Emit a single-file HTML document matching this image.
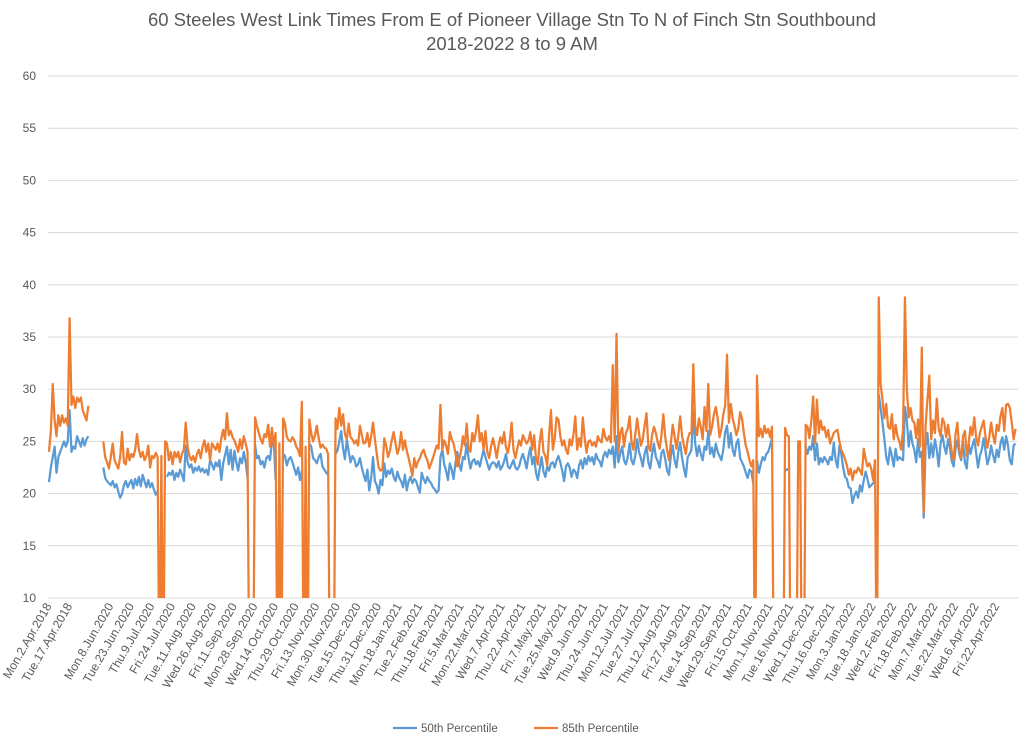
<!DOCTYPE html>
<html>
<head>
<meta charset="utf-8">
<style>
  html,body{margin:0;padding:0;background:#fff;}
  body{width:1024px;height:742px;overflow:hidden;font-family:"Liberation Sans",sans-serif;}
  svg{display:block;}
</style>
</head>
<body>
<svg id="chart" width="1024" height="742" viewBox="0 0 1024 742" xmlns="http://www.w3.org/2000/svg">
  <defs>
    <clipPath id="plotclip"><rect x="40" y="76" width="984" height="522"/></clipPath>
  </defs>
  <text x="512" y="26" text-anchor="middle" font-family="Liberation Sans, sans-serif" font-size="18.5" fill="#595959">60 Steeles West Link Times From E of Pioneer Village Stn To N of Finch Stn Southbound</text>
  <text x="512" y="50" text-anchor="middle" font-family="Liberation Sans, sans-serif" font-size="18.5" fill="#595959">2018-2022 8 to 9 AM</text>
  <g id="grid"></g>
  <g id="yaxis"></g>
  <g id="xaxis"></g>
  <g id="series" clip-path="url(#plotclip)"></g>
  <g>
    <line x1="393" y1="728" x2="417" y2="728" stroke="#5b9bd5" stroke-width="2.25"/>
    <text x="421" y="732" font-family="Liberation Sans, sans-serif" font-size="11.5" fill="#595959">50th Percentile</text>
    <line x1="534" y1="728" x2="558" y2="728" stroke="#ed7d31" stroke-width="2.25"/>
    <text x="562" y="732" font-family="Liberation Sans, sans-serif" font-size="11.5" fill="#595959">85th Percentile</text>
  </g>
</svg>
<script>
const yTicks = [10, 15, 20, 25, 30, 35, 40, 45, 50, 55, 60];
const xTickLabels = ["Mon.2.Apr.2018","Tue.17.Apr.2018","","Mon.8.Jun.2020","Tue.23.Jun.2020","Thu.9.Jul.2020","Fri.24.Jul.2020","Tue.11.Aug.2020","Wed.26.Aug.2020","Fri.11.Sep.2020","Mon.28.Sep.2020","Wed.14.Oct.2020","Thu.29.Oct.2020","Fri.13.Nov.2020","Mon.30.Nov.2020","Tue.15.Dec.2020","Thu.31.Dec.2020","Mon.18.Jan.2021","Tue.2.Feb.2021","Thu.18.Feb.2021","Fri.5.Mar.2021","Mon.22.Mar.2021","Wed.7.Apr.2021","Thu.22.Apr.2021","Fri.7.May.2021","Tue.25.May.2021","Wed.9.Jun.2021","Thu.24.Jun.2021","Mon.12.Jul.2021","Tue.27.Jul.2021","Thu.12.Aug.2021","Fri.27.Aug.2021","Tue.14.Sep.2021","Wed.29.Sep.2021","Fri.15.Oct.2021","Mon.1.Nov.2021","Tue.16.Nov.2021","Wed.1.Dec.2021","Thu.16.Dec.2021","Mon.3.Jan.2022","Tue.18.Jan.2022","Wed.2.Feb.2022","Fri.18.Feb.2022","Mon.7.Mar.2022","Tue.22.Mar.2022","Wed.6.Apr.2022","Fri.22.Apr.2022"];
const labelEvery = 11;

const p50 = [
 21.1,22.5,23.5,24.5,22,23.5,24,24.5,25,24.5,25,28,24,24.5,24.3,25.5,25,24.5,25.3,24.6,25.2,25.5,
 null,null,null,null,null,null,null,
 22.5,21.5,21.2,21.0,20.8,21.2,20.6,20.9,20.2,19.6,20.0,20.8,21.2,20.6,21.0,21.3,20.5,21.4,20.8,21.6,20.7,21.8,21.2,20.6,21.3,20.6,21.0,20.4,19.9,20.2,
 null,null,null,
 null,
 21.6,22,21.8,22.2,21.3,22,21.6,22.3,21.8,21.2,24.6,23,22.5,22.8,22,22.5,22.2,22.6,22.1,22.4,
 22,22.3,21.8,23.2,22.8,22.3,23,22.6,23.2,21.3,22.9,23.7,24.5,22.8,24.2,22.3,24.1,23,22.2,23.4,22.9,24,23,21.5,
 null,null,null,
 24.7,23.4,23.6,22.8,23.1,22.5,23.4,23.6,23.2,25.0,25.1,21.3,
 null,null,null,
 23.8,23.6,22.7,23.3,23.5,23,22.4,21.8,22.5,21.3,22.2,
 null,null,null,
 24.8,24.5,23.4,23.2,22.9,23.5,23.8,22.6,22.3,22,21.8,
 null,null,null,
 23.8,24.1,25,26,24.3,23.3,25.2,24,23,23.6,23.3,22.6,22.8,23.4,22.5,21.8,21.2,22.3,20.3,
 21.5,23.5,21.2,20.8,20.0,21.3,20.8,22.9,21.6,22.2,21.9,22.4,21.6,21.2,22.1,21.5,
 21.2,20.6,21.8,20.3,21.2,21.6,21.0,21.4,21.2,20.6,20.1,22,21.4,21,21.6,21.2,21,20.6,20.4,20.1,20.3,
 23.5,24.2,22.8,22.2,21.3,22.9,22.3,21.4,22.9,24,22.8,22.2,23.5,23.3,24.8,23.4,
 22.4,23.1,23.3,22.8,23.1,22.6,23.4,24.2,23.5,22.9,22.3,22.8,23,22.9,22.5,23.1,22.3,22.6,23.1,23.8,22.6,22.4,22.8,23.2,22.5,22.3,22.6,23.3,23.8,23.2,22.4,23.6,24.4,
 22.8,23.5,22,21.3,22.4,23.5,22.1,21.6,22.6,22.2,22.9,23,22.5,23.2,23.6,23,22.2,21.2,22.6,22.9,22.5,21.6,22.3,22.1,21.5,22.7,23.2,22.4,23.4,22.8,23.6,23.1,23.5,22.8,23.8,23.3,23.1,22.6,23.6,24,23.5,24.2,23.8,
 24.5,22.5,25.5,23,
 23.8,24.5,23.2,22.8,23.5,24.8,23.2,22.8,23.6,25.2,24,23.4,22.6,23.8,24.5,23,22.4,23.8,24.8,23.5,23.1,22.5,23.9,24.2,23.3,22.2,21.8,23.6,24.6,23.2,22.5,24,24.9,23.4,22.4,21.6,23.5,23.8,
 24.2,28,24.8,23.6,24.6,23.8,23.2,24.5,24.2,26,23.8,24.4,23.5,24.8,24,23.6,23.2,24.2,25.9,26.5,24.4,25.8,24.2,23.6,24.8,25.2,23.4,23,22.6,22,21.5,22.3,22.1,21,
 null,
 23.2,
 22,22.8,23.5,23.2,23.8,24,24.6,25.3,
 null,null,null,null,null,null,
 22.2,22.3,22.4,
 null,null,null,null,null,null,null,null,
 24.5,23.8,24.5,24.2,25.5,23.2,24.8,22.8,23.4,23,23.5,23.2,22.8,23.5,23.2,24.9,23.2,22.5,24.6,23.8,22.5,21.6,21.4,20.6,
 20.5,19.1,19.8,20.2,19.6,20.8,20.2,21.3,22.1,21.4,20.6,20.8,21,21.2,
 null,
 29.5,
 28.2,26.8,25.2,23.5,22.8,24.4,23.6,22.6,24.3,23.2,23.5,23.3,23.2,
 28.3,27,
 24.5,26,24.8,24.2,23,25.2,23.5,
 24,17.7,
 24.5,25.8,23.4,24.8,23.5,25.2,24.2,22.6,24.8,25.6,24.5,23.8,25.2,24.4,23.1,22.6,24.3,25.1,23.8,23.2,24.9,23,22.4,24.8,23.8,24.6,25.2,23.9,22.5,23.6,24.2,25.3,24.1,22.8,23.4,24.6,23.7,23,24.2,23.5,24.8,25.4,24.2,25.5,24.6,23.2,22.8,24.6,24.8
];

const p85 = [
 24,26,30.5,27,25.5,27.5,26.5,27.5,26.8,27.2,26.5,36.8,28.5,29.3,28.2,29.2,28.8,29.2,28,27.5,27,28.4,
 null,null,null,null,null,null,null,
 25,23.5,23,22.4,23.5,24.8,23.2,22.8,22.4,23.5,25.9,23,22.8,24.3,23.2,23.8,23.5,24.2,25.7,24.2,23.5,24,23.2,23.6,24.6,22.5,23.6,23.4,23.9,23.5,
 0,23.6,0,
 25,24.8,23.2,24,22.8,24,23.5,24,23,23.8,24.2,26.8,24.5,23.6,23.2,23.6,23,23.8,24.2,23.4,24.5,
 25.1,24,24.8,23.2,24.8,24.5,24.2,24.8,24,25.3,26.1,25.2,27.7,25.6,26,25.4,25.1,24.6,24,25.2,24.3,25.5,24.8,24,
 0,0,0,
 27.3,26.5,25.8,25.2,24.8,25.7,25.4,26.6,24.5,26.3,24.5,25.8,
 0,24.8,0,
 27.2,26.7,25.4,25.1,25,25.4,25.1,24.5,24.2,23.6,28.8,
 0,24.5,0,
 27.1,25.8,25,25.6,26.5,25.3,24.4,24.7,24.4,24.3,23.8,
 0,0,0,
 27.2,26.2,28.2,26.5,27.6,25.7,25.2,26.7,25.4,25.2,24.8,25.1,24.6,26.5,25.6,24.8,24.9,25.8,24.5,
 25.5,26.8,25.2,23.8,22.5,22.2,22.3,25.3,24.6,23.5,24.1,25.1,25.9,24.8,23.8,24.4,
 25.9,24.2,25.1,24.1,23.4,22.6,21.7,23.4,22.5,23.1,23.4,23.9,24.2,23.6,23.2,22.4,22.9,23.4,24,24.6,24.3,
 28.5,24.2,25.1,24.6,23.8,25.9,25.2,24.8,23.9,22.6,23.3,24.1,25.5,24.6,26.7,24.4,
 24,25.8,25,26,27.5,25,25.8,24.2,26,24,23.4,24.5,25.3,24.5,23.4,24.6,25.4,24.8,25.9,24.4,23.9,25,26.8,24.2,23.4,24.3,25.1,24.6,25.6,25.2,24.8,25.1,25.9,
 24.2,25.6,23.4,22.8,25,26.2,24,23.6,22.7,25.6,28,24.2,25.3,27.3,27.1,25.5,24.6,25.1,24.2,23.8,25.2,24.6,25.6,27.4,24.2,25.3,24.5,27.3,25.3,23.9,25,25.1,24.6,24.9,24.5,25.5,25.1,24.9,26.2,25.4,25.1,25.5,24.9,
 32.3,25,35.3,24,
 25.8,26.3,24.5,25.8,26.2,27.4,25,24.2,25.6,27.2,25.8,24.6,25.2,26.5,27.7,24.5,24.1,25.6,26.4,25.8,24.9,24.3,25.6,27.6,25.4,24.2,23.2,24.8,26.6,25.5,24.3,25.6,27.4,25.5,24.6,23.8,25.2,25.8,
 25.8,32.4,26.5,25.6,27.2,26.4,25.2,28.3,26,30.5,25.6,26.4,27.6,28.3,27.2,25.4,26.2,27.6,28.4,33.3,26.8,28.6,27.2,26.5,25.6,26.2,27.8,27.2,25.8,24.6,24,23.2,22.6,23.2,
 0,
 31.3,
 25.5,26.2,25.4,26.5,25.8,26.2,25.4,26.4,
 0,null,null,null,null,0,
 26.3,25.6,25.5,
 0,null,null,0,25,25,0,0,
 26.6,26.4,25.3,27,29.3,24.8,29,25.8,27,26.1,26.4,25.4,26.1,24.8,25.3,25.8,26,26.1,25,24.2,23.8,23.3,22.7,21.8,
 22.4,21.3,22.2,22,22.5,22.2,21.8,24.3,23.3,22.6,22.9,22.4,21.3,23.2,
 0,
 38.8,
 30.5,29,27.2,28.6,26.4,26.2,27.6,25.2,26.6,25.5,25,24.2,26.2,
 38.8,30,
 27.3,28.2,27,26.8,25.3,27.1,24.5,
 34,18.2,
 26.5,29,31.3,25.2,27,25.8,29.1,26.2,25.5,27.2,26.8,25.4,26.6,25.3,24,23.2,25.7,26.8,24.2,23.4,25.5,26,23.6,24.8,26.4,25.6,27.3,25.4,24.6,25.8,26.4,27,25.5,24.4,25.4,26.8,25.6,24.8,26.6,26,27.4,28.2,26,28.5,28.6,28.2,26.8,25.2,26.2
];

const NS = "http://www.w3.org/2000/svg";
const plotLeft = 48, plotRight = 1018, plotTop = 76, plotBottom = 598;
const yMin = 10, yMax = 60;
const nCats = Math.max(p50.length, p85.length);
const step = 1.873;
function xScale(i){ return 49 + i * step; }
function yScale(v){ return plotBottom - (v - yMin) / (yMax - yMin) * (plotBottom - plotTop); }

const grid = document.getElementById('grid');
const yaxis = document.getElementById('yaxis');
yTicks.forEach(function(t){
  const y = yScale(t);
  const ln = document.createElementNS(NS, 'line');
  
  
  ln.setAttribute('x1', plotLeft); ln.setAttribute('x2', plotRight);
  ln.setAttribute('y1', y); ln.setAttribute('y2', y);
  ln.setAttribute('stroke', '#d9d9d9'); ln.setAttribute('stroke-width', '1');
  grid.appendChild(ln);
  const tx = document.createElementNS(NS, 'text');
  
  
  tx.setAttribute('x', 36); tx.setAttribute('y', y + 4);
  tx.setAttribute('text-anchor', 'end');
  tx.setAttribute('font-family', 'Liberation Sans, sans-serif');
  tx.setAttribute('font-size', '12');
  tx.setAttribute('fill', '#595959');
  tx.textContent = t;
  yaxis.appendChild(tx);
});

const xaxis = document.getElementById('xaxis');
xTickLabels.forEach(function(lbl, k){
  if (!lbl) return;
  const x = xScale(k * labelEvery) + 3;
  const y = 606;
  const tx = document.createElementNS(NS, 'text');
  
  
  tx.setAttribute('x', x); tx.setAttribute('y', y);
  tx.setAttribute('text-anchor', 'end');
  tx.setAttribute('transform', 'rotate(-60 ' + x + ' ' + y + ')');
  tx.setAttribute('font-family', 'Liberation Sans, sans-serif');
  tx.setAttribute('font-size', '12');
  tx.setAttribute('fill', '#595959');
  tx.textContent = lbl;
  xaxis.appendChild(tx);
});

function buildPath(arr){
  let d = '', pen = false;
  for (let i = 0; i < arr.length; i++){
    const v = arr[i];
    if (v === null || v === undefined){ pen = false; continue; }
    d += (pen ? 'L' : 'M') + xScale(i).toFixed(2) + ' ' + yScale(v).toFixed(2);
    pen = true;
  }
  return d;
}
const series = document.getElementById('series');
const l85 = document.createElementNS(NS, 'path');


l85.setAttribute('d', buildPath(p85));
l85.setAttribute('fill', 'none'); l85.setAttribute('stroke', '#ed7d31');
l85.setAttribute('stroke-width', '2.25'); l85.setAttribute('stroke-linejoin', 'round');
series.appendChild(l85);
const l50 = document.createElementNS(NS, 'path');


l50.setAttribute('d', buildPath(p50));
l50.setAttribute('fill', 'none'); l50.setAttribute('stroke', '#5b9bd5');
l50.setAttribute('stroke-width', '2.25'); l50.setAttribute('stroke-linejoin', 'round');
series.insertBefore(l50, l85);
</script>
</body>
</html>
